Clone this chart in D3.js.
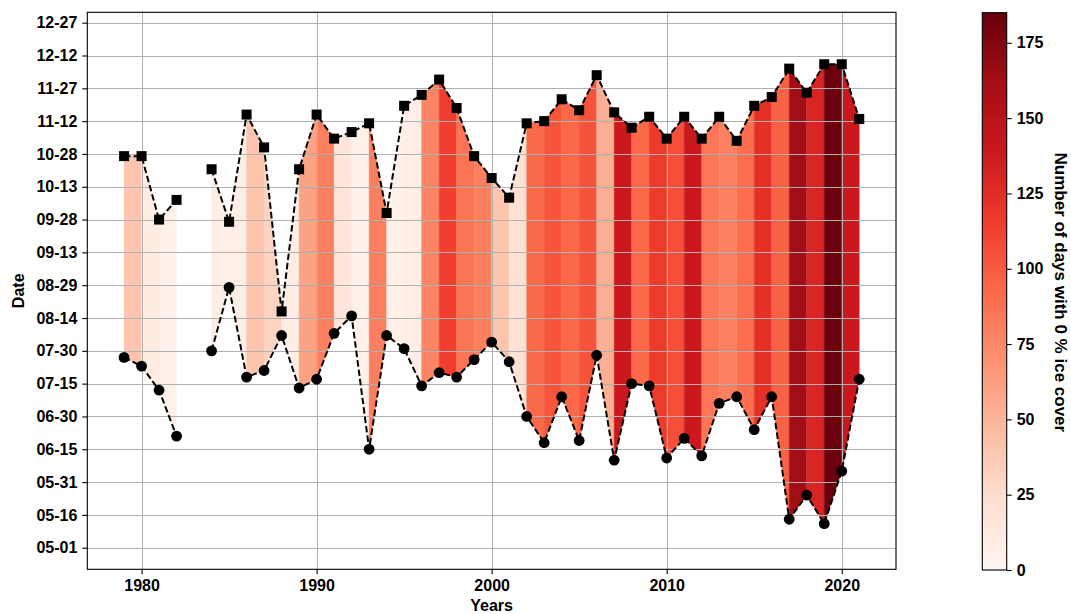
<!DOCTYPE html>
<html>
<head>
<meta charset="utf-8">
<script src="https://cdn.jsdelivr.net/npm/d3@7"></script>
<style>
body { margin: 0; background: #fff; }
svg text { font-family: "Liberation Sans", Arial, sans-serif; font-weight: bold; fill: #000; }
</style>
</head>
<body>
<svg id="chart" width="1071" height="614"></svg>
<script>
// data (1983 has no values)
const years = [1979, 1980, 1981, 1982, 1983, 1984, 1985, 1986, 1987, 1988, 1989,
  1990, 1991, 1992, 1993, 1994, 1995, 1996, 1997, 1998, 1999,
  2000, 2001, 2002, 2003, 2004, 2005, 2006, 2007, 2008, 2009,
  2010, 2011, 2012, 2013, 2014, 2015, 2016, 2017, 2018, 2019,
  2020, 2021];

// first day with 0 % ice cover (circles)
const firstDay = ['07-27', '07-23', '07-12', '06-21', null, '07-30', '08-28', '07-18', '07-21', '08-06', '07-13',
  '07-17', '08-07', '08-15', '06-15', '08-06', '07-31', '07-14', '07-20', '07-18', '07-26',
  '08-03', '07-25', '06-30', '06-18', '07-09', '06-19', '07-28', '06-10', '07-15', '07-14',
  '06-11', '06-20', '06-12', '07-06', '07-09', '06-24', '07-09', '05-14', '05-25', '05-12',
  '06-05', '07-17'];

// last day with 0 % ice cover (squares)
const lastDay = ['10-27', '10-27', '09-28', '10-07', null, '10-21', '09-27', '11-15', '10-31', '08-17', '10-21',
  '11-15', '11-04', '11-07', '11-11', '10-01', '11-19', '11-24', '12-01', '11-18', '10-27',
  '10-17', '10-08', '11-11', '11-12', '11-22', '11-17', '12-03', '11-16', '11-09', '11-14',
  '11-04', '11-14', '11-04', '11-14', '11-03', '11-19', '11-23', '12-06', '11-25', '12-08',
  '12-08', '11-13'];

// number of days with 0 % ice cover (band colour, band runs to the next year)
const zeroIceDays = [40, 10, 5, null, null, 8, 8, 40, 31, 8, 60,
  80, 16, 5, 80, 6, 8, 77, 114, 86, 80,
  40, 21, 92, 103, 93, 104, 53, 139, 93, 116,
  106, 139, 85, 79, 90, 123, 97, 163, 130, 184,
  139, null];

const xTicks = [1980, 1990, 2000, 2010, 2020];
const yTickLabels = ['05-01', '05-16', '05-31', '06-15', '06-30', '07-15', '07-30', '08-14', '08-29',
  '09-13', '09-28', '10-13', '10-28', '11-12', '11-27', '12-12', '12-27'];
const colorTicks = [0, 25, 50, 75, 100, 125, 150, 175];
const colorMax = 185;
const reds = ['#fff5f0', '#fee0d2', '#fcbba1', '#fc9272', '#fb6a4a', '#ef3b2c', '#cb181d', '#a50f15', '#67000d'];

const parseDay = d3.timeParse('%Y-%m-%d');
function dayOfYear(md) {
  if (md == null) return null;
  const d = parseDay('2021-' + md);
  return d3.timeDay.count(d3.timeYear(d), d) + 1;
}

const rows = years.map((yr, i) => ({
  year: yr,
  lo: dayOfYear(firstDay[i]),
  hi: dayOfYear(lastDay[i]),
  v: zeroIceDays[i]
}));

const svg = d3.select('#chart');
const plot = { left: 87.3, right: 896, top: 12.3, bottom: 569.3 };

const x = d3.scaleLinear().domain([1976.9, 2023.1]).range([plot.left, plot.right]);
const y = d3.scaleLinear().domain([111.13, 365.75]).range([plot.bottom, plot.top]);

const color = d3.scaleLinear()
  .domain(reds.map((c, k) => k * colorMax / (reds.length - 1)))
  .range(reds)
  .interpolate(d3.interpolateRgb);

svg.append('clipPath').attr('id', 'clip')
  .append('rect')
  .attr('x', plot.left).attr('y', plot.top)
  .attr('width', plot.right - plot.left).attr('height', plot.bottom - plot.top);

const inner = svg.append('g').attr('clip-path', 'url(#clip)');

// coloured bands between the two curves, one per year
const band = d3.area()
  .x(d => x(d.year))
  .y0(d => y(d.lo))
  .y1(d => y(d.hi));

for (let i = 0; i < rows.length - 1; i++) {
  const a = rows[i], b = rows[i + 1];
  if (a.lo == null || b.lo == null || a.v == null) continue;
  inner.append('path')
    .datum([a, b])
    .attr('d', band)
    .attr('fill', color(a.v))
    .attr('stroke', color(a.v))
    .attr('stroke-width', 0.4);
}

// grid
inner.append('g')
  .selectAll('line.hg')
  .data(yTickLabels)
  .join('line')
  .attr('x1', plot.left).attr('x2', plot.right)
  .attr('y1', d => Math.round(y(dayOfYear(d))) + 0.5)
  .attr('y2', d => Math.round(y(dayOfYear(d))) + 0.5)
  .attr('stroke', '#b0b0b0').attr('stroke-width', 1);

inner.append('g')
  .selectAll('line.vg')
  .data(xTicks)
  .join('line')
  .attr('y1', plot.top).attr('y2', plot.bottom)
  .attr('x1', d => Math.round(x(d)) + 0.5)
  .attr('x2', d => Math.round(x(d)) + 0.5)
  .attr('stroke', '#b0b0b0').attr('stroke-width', 1);

// dashed lines
const lineLo = d3.line().defined(d => d.lo != null).x(d => x(d.year)).y(d => y(d.lo));
const lineHi = d3.line().defined(d => d.hi != null).x(d => x(d.year)).y(d => y(d.hi));

[lineLo, lineHi].forEach(l => {
  inner.append('path')
    .datum(rows)
    .attr('d', l)
    .attr('fill', 'none')
    .attr('stroke', '#000')
    .attr('stroke-width', 2)
    .attr('stroke-dasharray', '6.5,3');
});

// markers
const pts = rows.filter(d => d.lo != null);
inner.append('g').selectAll('circle')
  .data(pts)
  .join('circle')
  .attr('cx', d => x(d.year))
  .attr('cy', d => y(d.lo))
  .attr('r', 5.4)
  .attr('fill', '#000');

const sq = 10;
inner.append('g').selectAll('rect')
  .data(pts)
  .join('rect')
  .attr('x', d => x(d.year) - sq / 2)
  .attr('y', d => y(d.hi) - sq / 2)
  .attr('width', sq).attr('height', sq)
  .attr('fill', '#000');

// axes
const yAxis = d3.axisLeft(y)
  .tickValues(yTickLabels.map(dayOfYear))
  .tickFormat((d, i) => yTickLabels[i])
  .tickSize(5).tickPadding(5);

const xAxis = d3.axisBottom(x)
  .tickValues(xTicks)
  .tickFormat(d3.format('d'))
  .tickSize(5).tickPadding(5);

const gy = svg.append('g').attr('transform', `translate(${plot.left},0)`).call(yAxis);
const gx = svg.append('g').attr('transform', `translate(0,${plot.bottom})`).call(xAxis);

[gx, gy].forEach(g => {
  g.select('.domain').remove();
  g.selectAll('.tick line').attr('stroke', '#000').attr('stroke-width', 1.1);
  g.selectAll('.tick text').attr('font-size', 16).style('font-family', '"Liberation Sans", Arial, sans-serif').style('font-weight', 'bold');
});

svg.append('rect')
  .attr('x', plot.left).attr('y', plot.top)
  .attr('width', plot.right - plot.left).attr('height', plot.bottom - plot.top)
  .attr('fill', 'none').attr('stroke', '#000').attr('stroke-width', 1.1);

svg.append('text')
  .attr('transform', `translate(18,${(plot.top + plot.bottom) / 2}) rotate(-90)`)
  .attr('text-anchor', 'middle')
  .attr('dy', '0.35em')
  .attr('font-size', 16)
  .text('Date');

svg.append('text')
  .attr('x', (plot.left + plot.right) / 2)
  .attr('y', 611)
  .attr('text-anchor', 'middle')
  .attr('font-size', 16)
  .text('Years');

// colour bar
const cb = { left: 982.3, right: 1006.7, top: 12.7, bottom: 570 };
const cy = d3.scaleLinear().domain([0, colorMax]).range([cb.bottom, cb.top]);

const grad = svg.append('defs').append('linearGradient')
  .attr('id', 'redsGrad')
  .attr('x1', 0).attr('y1', 1).attr('x2', 0).attr('y2', 0);
grad.selectAll('stop')
  .data(reds)
  .join('stop')
  .attr('offset', (c, k) => k / (reds.length - 1))
  .attr('stop-color', c => c);

svg.append('rect')
  .attr('x', cb.left).attr('y', cb.top)
  .attr('width', cb.right - cb.left).attr('height', cb.bottom - cb.top)
  .attr('fill', 'url(#redsGrad)')
  .attr('stroke', '#000').attr('stroke-width', 1.1);

const gc = svg.append('g')
  .attr('transform', `translate(${cb.right},0)`)
  .call(d3.axisRight(cy).tickValues(colorTicks).tickSize(5).tickPadding(5));
gc.select('.domain').remove();
gc.selectAll('.tick line').attr('stroke', '#000').attr('stroke-width', 1.1);
gc.selectAll('.tick text').attr('font-size', 16).style('font-family', '"Liberation Sans", Arial, sans-serif').style('font-weight', 'bold');

svg.append('text')
  .attr('transform', `translate(1061,${(cb.top + cb.bottom) / 2 + 1}) rotate(90)`)
  .attr('text-anchor', 'middle')
  .attr('dy', '0.35em')
  .attr('font-size', 17)
  .text('Number of days with 0 % ice cover');
</script>
</body>
</html>
